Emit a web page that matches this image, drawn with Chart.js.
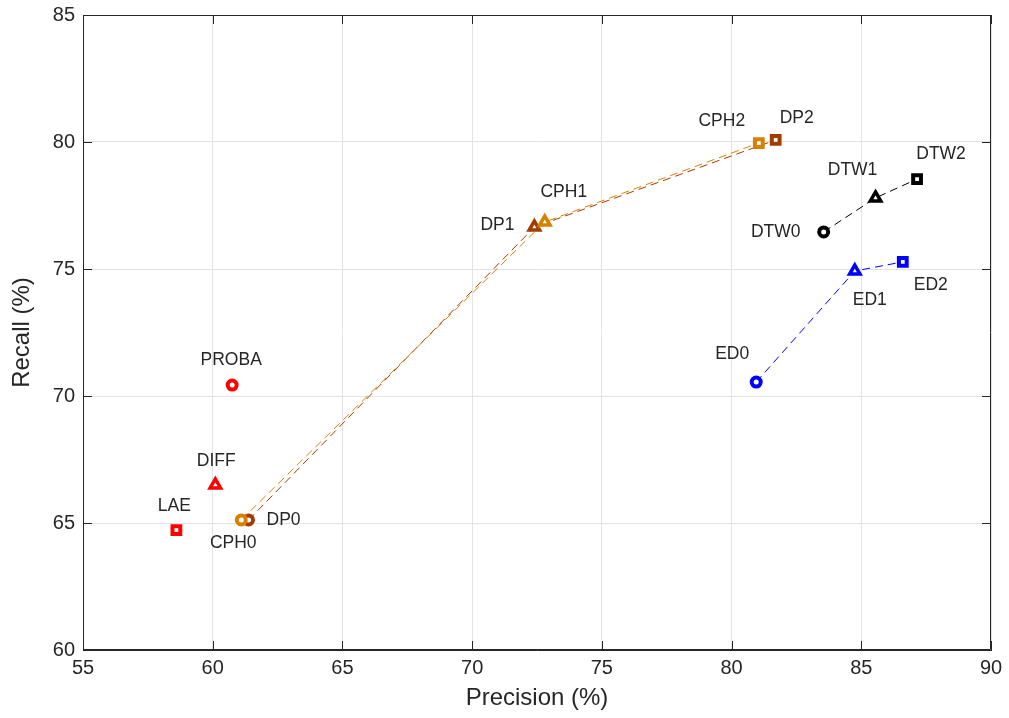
<!DOCTYPE html>
<html>
<head>
<meta charset="utf-8">
<script src="https://cdn.jsdelivr.net/npm/chart.js@4.4.1/dist/chart.umd.min.js"></script>
<style>
  html, body { margin: 0; padding: 0; background: #fff; }
  #wrap { width: 1009px; height: 718px; }
</style>
</head>
<body>
<div id="wrap"><canvas id="c"></canvas></div>
<script>
// precision / recall (%) per method, stages 0-2
const redNames = ['LAE', 'DIFF', 'PROBA'];
const redPrec = [58.6, 60.1, 60.75];
const redRec = [64.72, 66.5, 70.43];

const cphNames = ['CPH0', 'CPH1', 'CPH2'];
const cphPrec = [61.1, 72.8, 81.05];
const cphRec = [65.12, 76.85, 79.96];

const dpNames = ['DP0', 'DP1', 'DP2'];
const dpPrec = [61.38, 72.4, 81.7];
const dpRec = [65.12, 76.65, 80.08];

const dtwNames = ['DTW0', 'DTW1', 'DTW2'];
const dtwPrec = [83.55, 85.55, 87.15];
const dtwRec = [76.46, 77.8, 78.54];

const edNames = ['ED0', 'ED1', 'ED2'];
const edPrec = [80.95, 84.75, 86.6];
const edRec = [70.55, 74.92, 75.28];

const xTicks = [55, 60, 65, 70, 75, 80, 85, 90];
const yTicks = [60, 65, 70, 75, 80, 85];

// label offsets in px from each point (dx, dy of the text centre)
const labelOffsets = {
    LAE: [-2, -24], DIFF: [1, -24], PROBA: [-1, -25],
    CPH0: [-8, 23], CPH1: [19, -30], CPH2: [-37, -22],
    DP0: [35, 0], DP1: [-37, -2], DP2: [21, -22],
    DTW0: [-48, 0], DTW1: [-23, -28], DTW2: [24, -25],
    ED0: [-24, -28], ED1: [15, 29], ED2: [28, 23]
};

const zip = (xs, ys) => xs.map((x, i) => ({ x: x, y: ys[i] }));
const stageStyles = ['circle', 'triangle', 'rect'];
const redStyles = ['rect', 'triangle', 'circle'];
const sizeOf = s => s === 'rect' ? 5.5 : (s === 'triangle' ? 6 : 4.5);

function series(names, xs, ys, color, styles, line) {
    return {
        names: names,
        data: zip(xs, ys),
        showLine: line,
        borderColor: color,
        backgroundColor: color,
        borderWidth: 1,
        borderDash: [8, 5],
        pointStyle: styles,
        pointRadius: styles.map(sizeOf),
        pointBorderWidth: styles.map(s => s === 'triangle' ? 3.5 : 4),
        pointBackgroundColor: '#ffffff',
        pointBorderColor: color,
        pointHoverRadius: styles.map(sizeOf)
    };
}

const datasets = [
    series(redNames, redPrec, redRec, '#ff0000', redStyles, false),
    series(cphNames, cphPrec, cphRec, '#d98000', stageStyles, true),
    series(dpNames, dpPrec, dpRec, '#a33a00', stageStyles, true),
    series(dtwNames, dtwPrec, dtwRec, '#000000', stageStyles, true),
    series(edNames, edPrec, edRec, '#0000ff', stageStyles, true)
];

const axisColor = '#262626';

let pointLabels = {
    id: 'pointLabels',
    afterDatasetsDraw(chart) {
        let ctx = chart.ctx;
        ctx.save();
        ctx.font = '17.5px "Liberation Sans", Arial, sans-serif';
        ctx.fillStyle = axisColor;
        ctx.textAlign = 'center';
        ctx.textBaseline = 'middle';
        chart.data.datasets.forEach((ds, i) => {
            let meta = chart.getDatasetMeta(i);
            meta.data.forEach((pt, j) => {
                let name = ds.names[j];
                let off = labelOffsets[name] || [0, -20];
                ctx.fillText(name, pt.x + off[0], pt.y + off[1]);
            });
        });
        ctx.restore();
    }
};

// matlab style box with inward ticks
let boxPlugin = {
    id: 'boxPlugin',
    afterDraw(chart) {
        let ctx = chart.ctx;
        let a = chart.chartArea;
        let xs = chart.scales.x, ys = chart.scales.y;
        ctx.save();
        ctx.strokeStyle = axisColor;
        ctx.lineWidth = 1;
        ctx.beginPath();
        ctx.rect(a.left + 0.5, a.top + 0.5, a.right - a.left - 1, a.bottom - a.top - 1);
        xTicks.forEach(v => {
            let px = Math.round(xs.getPixelForValue(v)) + 0.5;
            ctx.moveTo(px, a.bottom);
            ctx.lineTo(px, a.bottom - 9);
            ctx.moveTo(px, a.top);
            ctx.lineTo(px, a.top + 9);
        });
        yTicks.forEach(v => {
            let py = Math.round(ys.getPixelForValue(v)) + 0.5;
            ctx.moveTo(a.left, py);
            ctx.lineTo(a.left + 9, py);
            ctx.moveTo(a.right, py);
            ctx.lineTo(a.right - 9, py);
        });
        ctx.stroke();
        ctx.restore();
    }
};

let tickFont = { family: '"Liberation Sans", Arial, sans-serif', size: 20 };
let titleFont = { family: '"Liberation Sans", Arial, sans-serif', size: 24 };

let config = {
    type: 'scatter',
    data: { datasets: datasets },
    options: {
        animation: false,
        responsive: true,
        maintainAspectRatio: false,
        layout: { padding: { left: 0, right: 18, top: 15, bottom: 0 } },
        plugins: {
            legend: { display: false },
            tooltip: { enabled: false }
        },
        scales: {
            x: {
                type: 'linear',
                min: 55,
                max: 90,
                afterBuildTicks: s => { s.ticks = xTicks.map(v => ({ value: v })); },
                afterFit: s => { s.height = 68; s.paddingLeft = 0; s.paddingRight = 0; },
                grid: { color: '#e3e3e3', drawTicks: false },
                border: { color: axisColor },
                ticks: { color: axisColor, font: tickFont, padding: 6, maxRotation: 0 },
                title: { display: true, text: 'Precision (%)', color: axisColor, font: titleFont, padding: { top: 0, bottom: 5 } }
            },
            y: {
                type: 'linear',
                min: 60,
                max: 85,
                afterBuildTicks: s => { s.ticks = yTicks.map(v => ({ value: v })); },
                afterFit: s => { s.width = 83; s.paddingTop = 0; s.paddingBottom = 0; },
                grid: { color: '#e3e3e3', drawTicks: false },
                border: { color: axisColor },
                ticks: { color: axisColor, font: tickFont, padding: 8 },
                title: { display: true, text: 'Recall (%)', color: axisColor, font: titleFont, padding: { top: 8, bottom: 0 } }
            }
        }
    },
    plugins: [pointLabels, boxPlugin]
};

let chart = new Chart(document.getElementById('c'), config);
</script>
</body>
</html>
